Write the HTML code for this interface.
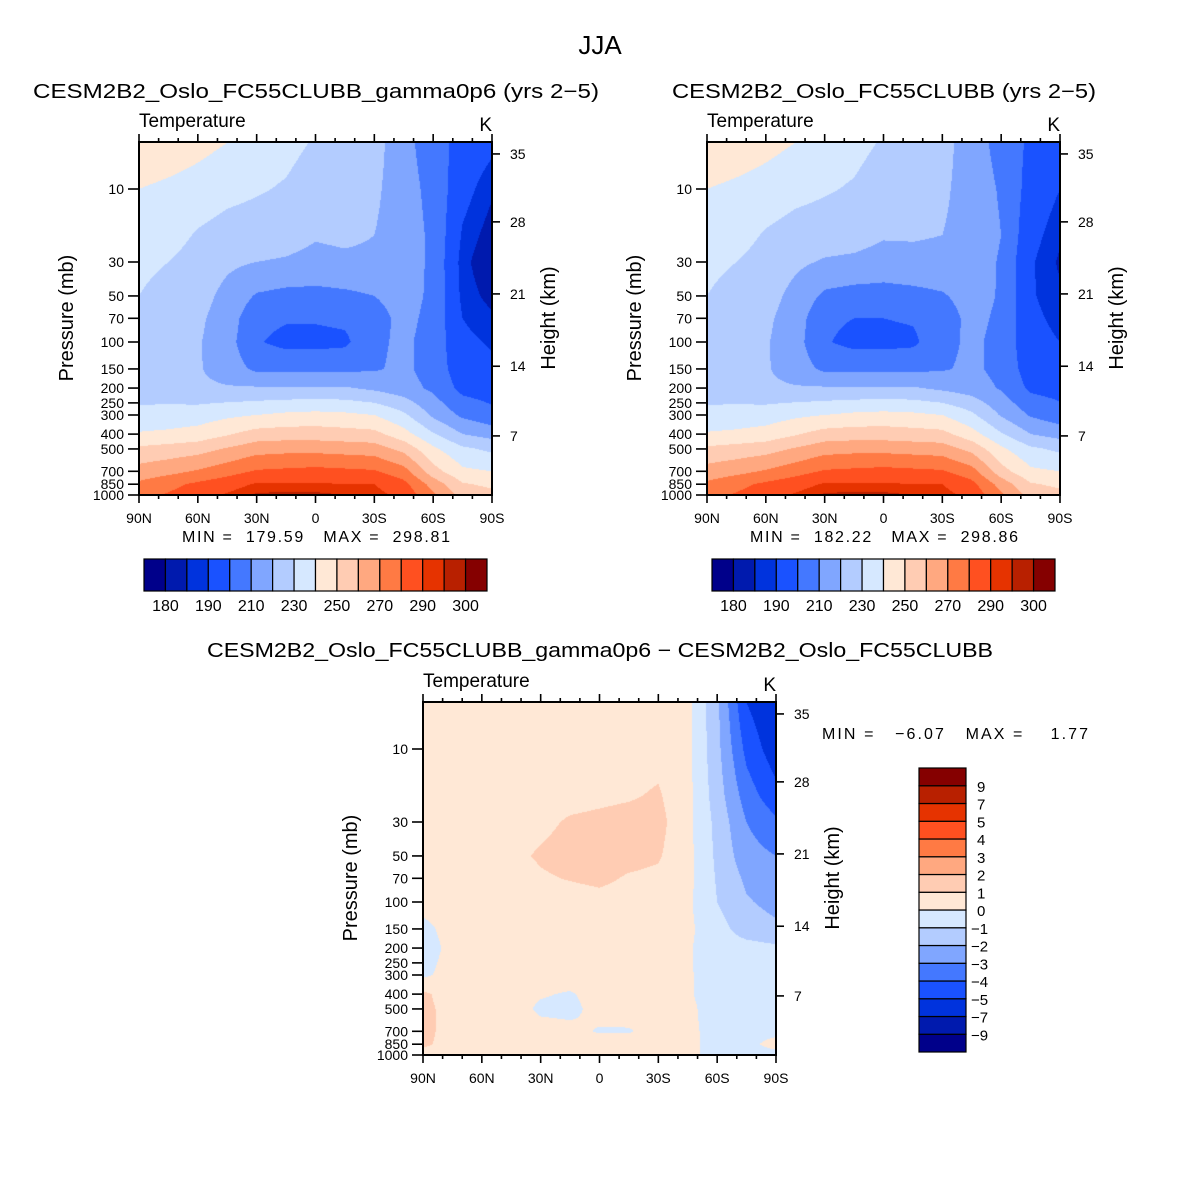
<!DOCTYPE html>
<html><head><meta charset="utf-8"><style>
body{margin:0;background:#fff;}
#wrap{position:relative;width:1200px;height:1200px;overflow:hidden;background:#fff;}
canvas{position:absolute;}
svg{position:absolute;left:0;top:0;}
text{font-family:"Liberation Sans",sans-serif;fill:#000;}
</style></head><body>
<div id="wrap">
<canvas id="c1" width="353" height="353" style="left:139px;top:142px"></canvas>
<canvas id="c2" width="353" height="353" style="left:707px;top:142px"></canvas>
<canvas id="c3" width="353" height="353" style="left:423px;top:702px"></canvas>
<svg id="ov" width="1200" height="1200"></svg>
</div>
<script>
// ---- data ----
const lats = [90,75,60,45,30,15,0,-15,-30,-45,-60,-75,-90];
const levels = [5,10,20,30,50,70,100,150,200,300,400,500,700,850,1000];
// temperature (K), rows = latitude (90N..90S), cols = levels (5..1000 mb)
const tempA = [
 [248,240,234,232,230,228,226,225,225,233,241,252,264,272,277],
 [246,238,234,230,227,225,224,223,224,234,242,254,267,277,281],
 [243,236,229,226,224,222,221,221,222,235,244,256,271,282,286],
 [240,233,226,222,217,215,214,215,221,238,249,261,276,286,291],
 [235,231,225,220,209,203,201,208,221,240,254,266,281,291,296],
 [233,229,224,219,207,201,197,208,221,242,255,267,282,291,296.5],
 [229,225,221,217,207,201,197,208,221,243,255,267,283,291,296.5],
 [226,223,222,218,208,202,198,208,221,242,254,266,282,290,295],
 [224,222,220,218,210,206,208,209,218,240,253,265,281,290,293],
 [213,214,215,215,214,213,212,212,214,232,244,257,274,283,287],
 [205,207,208,208,208,207,206,206,208,218,231,242,254,266,272],
 [196,193,189,187,188,190,192,194,197,208,220,232,242,251,256],
 [192,186,182,179.8,183,186,189,192,195,203,216,228,240,248,253]
];
const tempB = [
 [248,240,234,232,230,228,226,225,225,233,241,252,264,272,277],
 [246,238,234,230,227,225,224,223,224,234,242,254,267,277,281],
 [243,236,229,226,224,222,221,221,222,235,244,256,271,282,286],
 [240,233,226,222,217,215,214,215,221,238,249,261,276,286,291],
 [235,231,225,219,208,202,201,208,221,240,254,266,281,291,296],
 [233,229,224,218,206,200,197,208,221,242,255,267,282,291,296.5],
 [229,225,221,216,206,200,197,208,221,243,255,267,283,291,296.5],
 [226,223,221,217,207,201,198,208,221,242,254,266,282,290,295],
 [224,222,220,217,209,205,207,209,218,240,253,265,281,290,293],
 [214,215,216,215,214,213,212,212,215,232,244,257,274,283,287],
 [207,209,210,209,209,208,207,207,209,219,231,242,254,266,272],
 [198,196,193,191,191,192,193,195,198,209,220,232,242,251,256],
 [194,190,186,184,186,188,190,193,196,204,216,228,240,248,253]
];
// difference (K)
const diffC = [
 [0.5,0.5,0.5,0.5,0.5,0.5,0.4,-0.3,-0.5,-0.2,1.2,1.3,1.3,1.2,0.6],
 [0.5,0.5,0.5,0.5,0.5,0.5,0.5,0.4,0.3,0.4,0.5,0.6,0.6,0.6,0.5],
 [0.5,0.5,0.5,0.5,0.5,0.5,0.5,0.5,0.5,0.5,0.5,0.5,0.5,0.7,0.5],
 [0.5,0.5,0.5,0.6,0.8,0.6,0.5,0.5,0.5,0.5,0.5,0.5,0.5,0.5,0.5],
 [0.5,0.5,0.6,0.8,1.1,0.9,0.6,0.5,0.5,0.5,0.1,-0.2,0.4,0.5,0.5],
 [0.5,0.5,0.7,1.1,1.3,1.05,0.6,0.5,0.5,0.5,-0.1,-0.3,0.3,0.5,0.5],
 [0.5,0.5,0.8,1.2,1.4,1.2,0.7,0.5,0.5,0.5,0.4,0.4,-0.1,0.5,0.5],
 [0.5,0.6,0.9,1.3,1.3,0.9,0.6,0.5,0.5,0.5,0.5,0.5,-0.1,0.5,0.5],
 [0.5,0.7,1.1,1.3,1.1,0.8,0.5,0.5,0.5,0.5,0.5,0.5,0.5,0.5,0.5],
 [0.3,0.3,0.3,0.3,0.3,0.3,0.2,0.2,0.1,0.1,0.1,0.2,0.2,0.2,0.3],
 [-1.8,-1.7,-1.5,-1.3,-1.2,-1.1,-1.0,-0.6,-0.5,-0.4,-0.4,-0.4,-0.3,-0.3,-0.4],
 [-5.0,-4.3,-3.5,-3.0,-2.6,-2.2,-1.9,-1.5,-0.6,-0.5,-0.5,-0.5,-0.4,-0.4,-0.5],
 [-6.0,-5.6,-4.7,-3.8,-3.0,-2.6,-2.3,-1.8,-0.8,-0.6,-0.5,-0.5,-0.4,0.5,-0.5]
];
const tempBounds = [180,185,190,200,210,220,230,240,250,260,270,280,290,295,300];
const tempLabels = ["180","190","210","230","250","270","290","300"];
const diffBounds = [-9,-7,-5,-4,-3,-2,-1,0,1,2,3,4,5,7,9];
const diffLabels = ["-9","-7","-5","-4","-3","-2","-1","0","1","2","3","4","5","7","9"];
const palette = ["#00008a","#001aae","#0033dd","#1a52ff","#4478ff","#80a6ff","#b3ccff","#d6e8ff","#ffe8d6","#ffccb3","#ffa880","#ff7a44","#ff5020","#e63300","#b82000","#850000"];
const pTicks = [10,30,50,70,100,150,200,250,300,400,500,700,850,1000];
const pTickLabels = ["10","30","50","70","100","150","200","250","300","400","500","700","850","1000"];
const hTicks = [7,14,21,28,35];
const hTickP = [411,144,48.5,16.4,5.9];
const latTicks = [90,60,30,0,-30,-60,-90];
const latTickLabels = ["90N","60N","30N","0","30S","60S","90S"];

// ---- scales ----
const W=353,H=353,PX=153;
function yOfP(p){return H - PX*Math.log10(1000/p);}
function xOfLat(l){return (90-l)/180*W;}
function colorIdx(v,b){let k=0;while(k<b.length&&v>=b[k])k++;return k;}
function sample(grid,lat,p){
  let fi=(90-lat)/15; fi=Math.max(0,Math.min(lats.length-1.0001,fi));
  const i=Math.floor(fi), ti=fi-i;
  const lp=Math.log10(p); const ll=levels.map(Math.log10);
  let j=0; if(lp<=ll[0]){j=0;} else {while(j<ll.length-2&&lp>ll[j+1])j++;}
  let tj=(lp-ll[j])/(ll[j+1]-ll[j]); tj=Math.max(0,Math.min(1,tj));
  const a=grid[i][j]*(1-tj)+grid[i][j+1]*tj;
  const b=grid[i+1][j]*(1-tj)+grid[i+1][j+1]*tj;
  return a*(1-ti)+b*ti;
}
function hexRGB(h){return [parseInt(h.substr(1,2),16),parseInt(h.substr(3,2),16),parseInt(h.substr(5,2),16)];}
const rgbPal=palette.map(hexRGB);
function drawField(id,grid,bounds){
  const cv=document.getElementById(id),ctx=cv.getContext('2d');
  const img=ctx.createImageData(W,H);
  for(let y=0;y<H;y++){
    const p=1000*Math.pow(10,-(H-y-0.5)/PX);
    for(let x=0;x<W;x++){
      const lat=90-(x+0.5)/W*180;
      const c=rgbPal[colorIdx(sample(grid,lat,p),bounds)];
      const o=(y*W+x)*4;img.data[o]=c[0];img.data[o+1]=c[1];img.data[o+2]=c[2];img.data[o+3]=255;
    }
  }
  ctx.putImageData(img,0,0);
}
drawField('c1',tempA,tempBounds);
drawField('c2',tempB,tempBounds);
drawField('c3',diffC,diffBounds);

// ---- overlay ----
const NS="http://www.w3.org/2000/svg";
const svg=document.getElementById('ov');
function el(tag,attrs,parent){const e=document.createElementNS(NS,tag);for(const k in attrs)e.setAttribute(k,attrs[k]);(parent||svg).appendChild(e);return e;}
function txt(s,x,y,size,anchor,parent,extra){const t=el('text',Object.assign({x:x,y:y,'font-size':size,'text-anchor':anchor||'start'},extra||{}),parent);t.textContent=s;return t;}

const jja=txt("JJA",600,54,26,"middle");



function axes(ox,oy,title,titleCx,titleLen){
  const g=el('g',{});
  
  
  if(title){const t=txt(title,titleCx,98,20,"middle",g,{textLength:titleLen,lengthAdjust:"spacingAndGlyphs"});
    
    }
  const tt=txt("Temperature",ox,oy-15,19,"start",g);
  
  
  const k=txt("K",ox+W,oy-11,19,"end",g);
  
  
  el('rect',{x:ox,y:oy,width:W,height:H,fill:'none',stroke:'#000','stroke-width':2},g);
  for(let l=90;l>=-90;l-=10){
    const x=ox+xOfLat(l),major=(l%30===0),len=major?8:4;
    el('line',{x1:x,y1:oy,x2:x,y2:oy-len,stroke:'#000','stroke-width':1.6},g);
    el('line',{x1:x,y1:oy+H,x2:x,y2:oy+H+len,stroke:'#000','stroke-width':1.6},g);
  }
  latTicks.forEach((l,i)=>{const t=txt(latTickLabels[i],ox+xOfLat(l),oy+H+28,14,"middle",g);
    
    });
  pTicks.forEach((p,i)=>{const y=oy+yOfP(p);
    el('line',{x1:ox,y1:y,x2:ox-11,y2:y,stroke:'#000','stroke-width':1.6},g);
    const t=txt(pTickLabels[i],ox-15,y+5,14,"end",g);
    
    });
  hTicks.forEach((h,i)=>{const y=oy+yOfP(hTickP[i]);
    el('line',{x1:ox+W,y1:y,x2:ox+W+8,y2:y,stroke:'#000','stroke-width':1.6},g);
    const t=txt(String(h),ox+W+18,y+5,14,"start",g);
    
    });
  const pl=txt("Pressure  (mb)",0,0,20,"middle",g,{transform:`translate(${ox-66},${oy+176}) rotate(-90)`});
  
  
  const hl=txt("Height  (km)",0,0,20,"middle",g,{transform:`translate(${ox+W+63},${oy+176}) rotate(-90)`});
  
  
}
axes(139,142,"CESM2B2_Oslo_FC55CLUBB_gamma0p6 (yrs 2\u22125)",316,566);
axes(707,142,"CESM2B2_Oslo_FC55CLUBB (yrs 2\u22125)",884,424);
axes(423,702,null);
const t3=txt("CESM2B2_Oslo_FC55CLUBB_gamma0p6 \u2212 CESM2B2_Oslo_FC55CLUBB",600,657,20,"middle",svg,{textLength:786,lengthAdjust:"spacingAndGlyphs"});



function minmax(s,x,y,anchor,len){const t=txt(s,x,y,16,anchor,svg,{textLength:len,lengthAdjust:"spacing"});t.setAttribute('xml:space','preserve');t.style.whiteSpace='pre';
  
  }
minmax("MIN =  179.59   MAX =  298.81",316,542,"middle",268);
minmax("MIN =  182.22   MAX =  298.86",884,542,"middle",268);
minmax("MIN =   \u22126.07   MAX =    1.77",822,739,"start",266);

function hbar(x0,y0,w,h){
  const g=el('g',{});
  
  
  const bw=w/palette.length;
  palette.forEach((c,i)=>{const r=el('rect',{x:x0+i*bw,y:y0,width:bw,height:h,fill:c,stroke:'#000','stroke-width':1.2},g);
    
    });
  tempLabels.forEach(s=>{const k=tempBounds.indexOf(+s);const t=txt(s,x0+(k+1)*bw,y0+52,16,"middle",g);
    
    });
}
hbar(144,559,343,32);
hbar(712,559,343,32);
(function(){
  const x0=919,y0=768,w=47,h=284;
  const g=el('g',{});
  
  
  const bh=h/palette.length;
  palette.forEach((c,i)=>{const r=el('rect',{x:x0,y:y0+h-(i+1)*bh,width:w,height:bh,fill:c,stroke:'#000','stroke-width':1.2},g);
    
    });
  diffLabels.forEach((s,k)=>{const y=y0+h-(k+1)*bh;const t=txt(s.replace('-','\u2212'),s[0]==='-'?971:977,y+6,15,"start",g);
    
    });
})();
</script>
</body></html>
